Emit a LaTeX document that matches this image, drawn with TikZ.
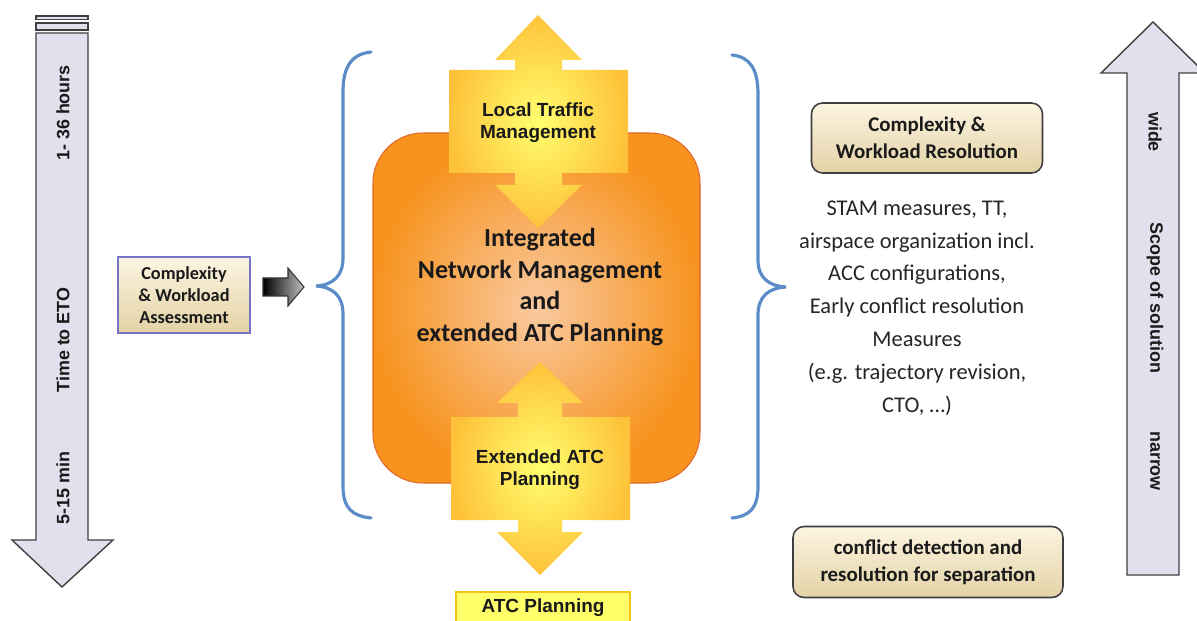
\documentclass[tikz,border=0pt]{standalone}
\usepackage{fontspec}
\setmainfont{Carlito}
\newfontfamily\arial{Liberation Sans}
\definecolor{lav}{HTML}{E4DFEC}
\definecolor{arrowedge}{HTML}{3F3F3F}
\definecolor{beigeT}{HTML}{FDF5E2}
\definecolor{beigeB}{HTML}{E3D2A6}
\definecolor{boxblue}{HTML}{7474C4}
\definecolor{orangeO}{HTML}{F7931E}
\definecolor{orangeI}{HTML}{F9C9A0}
\definecolor{orangeE}{HTML}{E0682A}
\definecolor{yelI}{HTML}{FFFF6E}
\definecolor{yelO}{HTML}{FEC23A}
\definecolor{braceblue}{HTML}{5B8CC8}
\definecolor{atcY}{HTML}{FFFF6A}
\definecolor{atcE}{HTML}{F2C318}
\definecolor{txt}{HTML}{1A1A1A}
\tikzset{
  bigarrow/.style={fill=lav, draw=arrowedge, line width=0.8pt, line join=miter},
  arrowlabel/.style={font=\arial\bfseries\fontsize{10.2pt}{12pt}\selectfont, text=txt, inner sep=0pt},
  yellowlabel/.style={font=\arial\bfseries\fontsize{10.8pt}{12.5pt}\selectfont, align=center, text=txt, inner sep=0pt},
  beigebox/.style={top color=beigeT, bottom color=beigeB, draw=arrowedge, line width=0.9pt, rounded corners=0.22cm, align=center, inner sep=0pt,
     font=\bfseries\fontsize{11.9pt}{15.3pt}\selectfont, text=txt},
  brace/.style={draw=braceblue, line width=1.8pt, line cap=round},
}
\begin{document}
\begin{tikzpicture}[x=0.02cm, y=-0.02cm]
\clip (0,0) rectangle (1197,621);
\fill[white] (0,0) rectangle (1197,621);

% left time arrow
\draw[bigarrow] (36,33) -- (88,33) -- (88,540) -- (113,540) -- (62,587) -- (12,540) -- (36,540) -- cycle;
\draw[fill=lav, draw=arrowedge, line width=0.9pt] (36,23) rectangle (88,30);
\draw[fill=lav, draw=arrowedge, line width=0.9pt] (36,16) rectangle (88,19.5);
\node[arrowlabel, rotate=90] (h36) at (63,113) {1- 36 hours};
\node[arrowlabel, rotate=90] (eto) at (63,340) {Time to ETO};
\node[arrowlabel, rotate=90] (m15) at (63,488) {5-15 min};

% right scope arrow
\draw[bigarrow] (1127,575) -- (1127,73) -- (1101,73) -- (1153,22) -- (1205,73) -- (1179,73) -- (1179,575) -- cycle;
\node[arrowlabel, rotate=-90] (wide) at (1155,132) {wide};
\node[arrowlabel, rotate=-90] (scope) at (1155,298) {Scope of solution};
\node[arrowlabel, rotate=-90] (narrow) at (1155,461) {narrow};

% assessment box
\node[top color=beigeT, bottom color=beigeB, draw=boxblue, line width=1pt, minimum width=2.64cm, minimum height=1.52cm,
      align=center, inner sep=0pt, font=\bfseries\fontsize{10.4pt}{12.6pt}\selectfont, text=txt] (assess) at (184,295)
      {Complexity\\\& Workload\\Assessment};

% small gradient arrow
\shade[left color=black, right color=black!25, draw=black!80, line width=0.6pt]
  (263,278) -- (288,278) -- (288,268) -- (304,287) -- (288,306) -- (288,296) -- (263,296) -- cycle;

% braces
\draw[brace] (371,52) .. controls (352,54) and (343,66) .. (343,92) -- (343,258)
  .. controls (343,276) and (333,285) .. (316,286) .. controls (333,287) and (343,296) .. (343,314)
  -- (343,486) .. controls (343,508) and (352,516) .. (371,518);
\draw[brace] (732,55) .. controls (750,57) and (758,69) .. (758,94) -- (758,260)
  .. controls (758,277) and (768,286) .. (786,287) .. controls (768,288) and (758,297) .. (758,315)
  -- (758,486) .. controls (758,508) and (750,516) .. (732,518);

% orange central box
\shade[inner color=orangeI, outer color=orangeO, draw=orangeE, line width=0.6pt, rounded corners=1cm]
  (373,133) rectangle (700,483);

% top yellow double arrow
\shade[inner color=yelI, outer color=yelO]
  (538,15) -- (582,60) -- (562,60) -- (562,70) -- (628,70) -- (628,173) -- (562,173) -- (562,185) -- (582,185)
  -- (538,228) -- (495,185) -- (515,185) -- (515,173) -- (449,173) -- (449,70) -- (515,70) -- (515,60) -- (495,60) -- cycle;
\node[yellowlabel] (ltm) at (538,123) {Local Traffic\\Management};

% bottom yellow double arrow
\shade[inner color=yelI, outer color=yelO]
  (540,362) -- (583,403) -- (562,403) -- (562,417) -- (630,417) -- (630,520) -- (562,520) -- (562,532) -- (583,532)
  -- (540,575) -- (497,532) -- (518,532) -- (518,520) -- (451,520) -- (451,417) -- (518,417) -- (518,403) -- (497,403) -- cycle;
\node[yellowlabel] (eatc) at (540,470) {Extended ATC\\Planning};

% central text
\node[align=center, inner sep=0pt, font=\bfseries\fontsize{14.8pt}{18.1pt}\selectfont, text=txt] (inm) at (540,287)
  {Integrated\\Network Management\\and\\extended ATC Planning};

% ATC planning box
\draw[fill=atcY, draw=atcE, line width=1pt] (456,592) rectangle (630,640);
\node[yellowlabel] (atc) at (543,608) {ATC Planning};

% right side boxes and text
\node[beigebox, minimum width=4.62cm, minimum height=1.4cm] (res) at (927,138) {Complexity \&\\Workload Resolution};
\node[align=center, inner sep=0pt, font=\fontsize{12.8pt}{18.7pt}\selectfont, text=black!85] (meas) at (917,308)
  {STAM measures, TT,\\airspace organization incl.\\ACC configurations,\\Early conflict resolution\\Measures\\(e.g. trajectory revision,\\CTO, …)};
\node[beigebox, minimum width=5.4cm, minimum height=1.42cm] (conf) at (928,562) {conflict detection and\\resolution for separation};
\end{tikzpicture}
\end{document}
